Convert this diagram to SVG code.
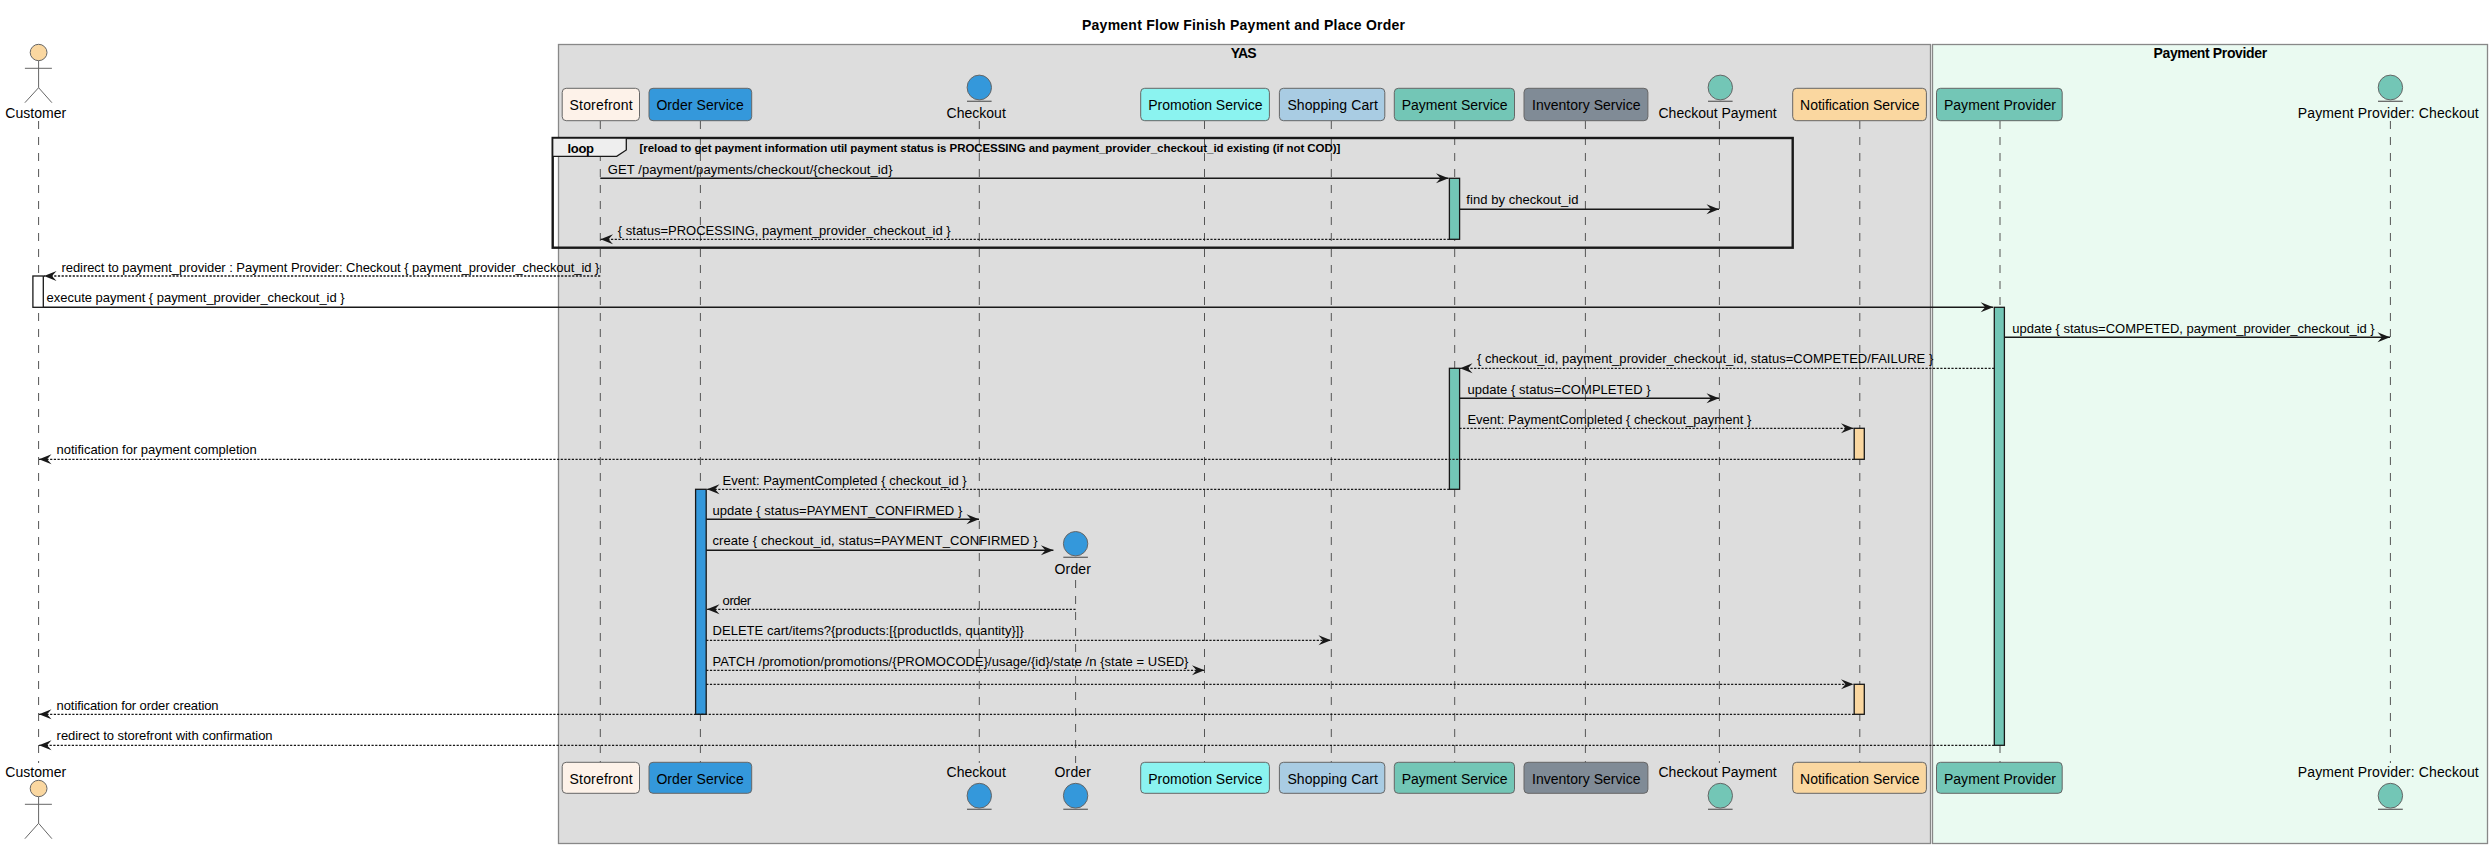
<svg xmlns="http://www.w3.org/2000/svg" width="2492" height="848" viewBox="0 0 2492 848">
<style>
text{font-family:"Liberation Sans",Arial,sans-serif;fill:#000;white-space:pre}
.m{font-size:13px}
.p{font-size:14px}
.b{font-weight:bold}
.box{stroke:#666;stroke-width:1}
.life{stroke:#555;stroke-width:1;stroke-dasharray:8 8;fill:none}
.s{stroke:#181818;stroke-width:1.4;fill:none}
.d{stroke:#181818;stroke-width:1.3;fill:none;stroke-dasharray:2.2 1.5}
.act{stroke:#181818;stroke-width:1.3}
.ent{stroke:#666;stroke-width:1}
.ul{stroke:#666;stroke-width:1.3}
.man{stroke:#666;stroke-width:1;fill:none}
.t{fill:#73C6B6}.o{fill:#3498DB}.y{fill:#FAD7A0}
</style>
<defs>
<marker id="ah" markerUnits="userSpaceOnUse" markerWidth="14" markerHeight="12" refX="12.5" refY="6" orient="auto-start-reverse" overflow="visible"><path d="M0 1L12.5 6L0 11L4.5 6Z" fill="#181818"/></marker>
</defs>
<rect width="2492" height="848" fill="#fff"/>
<text id="title" class="b" x="1082" y="30" font-size="14" textLength="323">Payment Flow Finish Payment and Place Order</text>
<g id="box-yas"><rect x="558.5" y="44.5" width="1372" height="799" fill="#DDDDDD" stroke="#888" stroke-width="1.3"/><text class="b" x="1230.7" y="58" font-size="14" textLength="25.9">YAS</text></g>
<g id="box-pp"><rect x="1932.5" y="44.5" width="555" height="799" fill="#EAFAF1" stroke="#888" stroke-width="1.3"/><text class="b" x="2153.5" y="58" font-size="14" textLength="113.6">Payment Provider</text></g>
<g id="lifelines">
<path class="life" d="M38.6 121V763M600.3 121V763M700.4 121V763M979.3 121V763M1075.6 580V763M1204.5 121V763M1331.3 121V763M1454.7 121V763M1585.4 121V763M1719.4 121V763M1859.8 121V763M2000 121V763M2390.4 121V763"/>
</g>
<g id="loop"><rect x="552.7" y="138" width="1240" height="109.7" fill="none" stroke="#181818" stroke-width="2.4"/><path d="M552.7 138H626.3V150L616.7 156.3H552.7Z" fill="#EEEEEE" stroke="#181818" stroke-width="1.3"/><text class="m b" x="567.5" y="152.7" textLength="26.5">loop</text><text class="b" x="639.5" y="152" font-size="11.5" textLength="700.8">[reload to get payment information util payment status is PROCESSING and payment_provider_checkout_id existing (if not COD)]</text></g>
<g id="activations">
<rect class="act t" x="1449.4" y="178.3" width="10.2" height="61"/>
<rect class="act" fill="#fff" x="32.9" y="276" width="10.4" height="31.3"/>
<rect class="act t" x="1994.3" y="307.3" width="10.1" height="438"/>
<rect class="act t" x="1449.4" y="368.3" width="10.2" height="121"/>
<rect class="act y" x="1854.2" y="428.3" width="10.1" height="31"/>
<rect class="act o" x="695.6" y="489.3" width="10.6" height="225"/>
<rect class="act y" x="1854.2" y="684.3" width="10.1" height="30"/>
</g>
<g id="connectors">
<path class="s" marker-end="url(#ah)" d="M600.3 178.3H1448.5"/><text class="m" x="607.7" y="174" textLength="284.8">GET /payment/payments/checkout/{checkout_id}</text>
<path class="s" marker-end="url(#ah)" d="M1459.4 209.3H1719"/><text class="m" x="1466.3" y="204" textLength="112.2">find by checkout_id</text>
<path class="d" marker-end="url(#ah)" d="M1449.4 239.3H600.5"/><text class="m" x="617.8" y="235" textLength="332.9">{ status=PROCESSING, payment_provider_checkout_id }</text>
<path class="d" marker-end="url(#ah)" d="M600.3 276H44"/><text class="m" x="61.4" y="272.3" textLength="538">redirect to payment_provider : Payment Provider: Checkout { payment_provider_checkout_id }</text>
<path class="s" marker-end="url(#ah)" d="M43.4 307.3H1993.2"/><text class="m" x="46.6" y="301.7" textLength="298">execute payment { payment_provider_checkout_id }</text>
<path class="s" marker-end="url(#ah)" d="M2004.4 337.3H2390"/><text class="m" x="2012.3" y="332.7" textLength="362.4">update { status=COMPETED, payment_provider_checkout_id }</text>
<path class="d" marker-end="url(#ah)" d="M1994.3 368.3H1460"/><text class="m" x="1477" y="363.3" textLength="456.3">{ checkout_id, payment_provider_checkout_id, status=COMPETED/FAILURE }</text>
<path class="s" marker-end="url(#ah)" d="M1459.4 398.3H1719"/><text class="m" x="1467.4" y="394" textLength="183.2">update { status=COMPLETED }</text>
<path class="d" marker-end="url(#ah)" d="M1459.4 428.3H1853.5"/><text class="m" x="1467.4" y="424" textLength="283.9">Event: PaymentCompleted { checkout_payment }</text>
<path class="d" marker-end="url(#ah)" d="M1854.2 459.3H39"/><text class="m" x="56.6" y="454.3" textLength="200.2">notification for payment completion</text>
<path class="d" marker-end="url(#ah)" d="M1449.4 489.3H707"/><text class="m" x="722.6" y="485" textLength="244">Event: PaymentCompleted { checkout_id }</text>
<path class="s" marker-end="url(#ah)" d="M706.2 519.3H979"/><text class="m" x="712.5" y="515" textLength="249.8">update { status=PAYMENT_CONFIRMED }</text>
<path class="s" marker-end="url(#ah)" d="M706.2 550.3H1053.4"/><text class="m" x="712.5" y="545" textLength="325">create { checkout_id, status=PAYMENT_CONFIRMED }</text>
<path class="d" marker-end="url(#ah)" d="M1075.6 609.3H707"/><text class="m" x="722.6" y="605" textLength="28.6">order</text>
<path class="d" marker-end="url(#ah)" d="M706.2 640.3H1331"/><text class="m" x="712.5" y="635" textLength="311.3">DELETE cart/items?{products:[{productIds, quantity}]}</text>
<path class="d" marker-end="url(#ah)" d="M706.2 670.3H1204.5"/><text class="m" x="712.5" y="666" textLength="475.9">PATCH /promotion/promotions/{PROMOCODE}/usage/{id}/state /n {state = USED}</text>
<path class="d" marker-end="url(#ah)" d="M706.2 684.3H1853.5"/>
<path class="d" marker-end="url(#ah)" d="M1854.2 714.3H39"/><text class="m" x="56.6" y="710" textLength="162">notification for order creation</text>
<path class="d" marker-end="url(#ah)" d="M1994.3 745.3H39"/><text class="m" x="56.6" y="740" textLength="216">redirect to storefront with confirmation</text>
</g>
<g id="customer"><ellipse cx="38.6" cy="52.5" rx="8.4" ry="8.2" fill="#FAD7A0" stroke="#666"/><path class="man" d="M38.6 60.7V87.7M24.9 68.3H51.9M24.9 102.7L38.6 87.7L51.9 102.7"/><text class="p" x="5.3" y="118" textLength="60.9">Customer</text></g>
<g id="customer-bottom"><text class="p" x="5.3" y="777.3" textLength="60.9">Customer</text><ellipse cx="38.6" cy="788.5" rx="8.4" ry="8.2" fill="#FAD7A0" stroke="#666"/><path class="man" d="M38.6 796.7V823.3M24.9 804.3H51.9M24.9 838.7L38.6 823.3L51.9 838.7"/></g>
<g id="storefront"><rect class="box" x="562.2" y="88.3" width="77.3" height="32.4" rx="4" fill="#FDF2E9"/><text class="p" x="569.6" y="110" textLength="63">Storefront</text></g>
<g id="storefront-bottom"><rect class="box" x="562.2" y="762.3" width="77.3" height="31" rx="4" fill="#FDF2E9"/><text class="p" x="569.6" y="783.7" textLength="63">Storefront</text></g>
<g id="order-service"><rect class="box" x="649" y="88.3" width="102.7" height="32.4" rx="4" fill="#3498DB"/><text class="p" x="656.4" y="110" textLength="87.3">Order Service</text></g>
<g id="order-service-bottom"><rect class="box" x="649" y="762.3" width="102.7" height="31" rx="4" fill="#3498DB"/><text class="p" x="656.4" y="783.7" textLength="87.3">Order Service</text></g>
<g id="checkout"><ellipse class="ent o" cx="979.3" cy="87.5" rx="12.2" ry="12.4"/><path class="ul" d="M967 101.3H991.6"/><text class="p" x="946.5" y="118" textLength="59.3">Checkout</text></g>
<g id="checkout-bottom"><text class="p" x="946.5" y="777.3" textLength="59.3">Checkout</text><ellipse class="ent o" cx="979.3" cy="795.7" rx="12.2" ry="12.4"/><path class="ul" d="M967 809.3H991.6"/></g>
<g id="order"><ellipse class="ent o" cx="1075.6" cy="543.7" rx="12.2" ry="12.2"/><path class="ul" d="M1063.3 557.3H1087.9"/><text class="p" x="1054.5" y="574" textLength="36.5">Order</text></g>
<g id="order-bottom"><text class="p" x="1054.5" y="777.3" textLength="36.5">Order</text><ellipse class="ent o" cx="1075.6" cy="795.7" rx="12.2" ry="12.4"/><path class="ul" d="M1063.3 809.3H1087.9"/></g>
<g id="promotion"><rect class="box" x="1140.7" y="88.3" width="128.7" height="32.4" rx="4" fill="#8BF3F0"/><text class="p" x="1148.2" y="110" textLength="114.3">Promotion Service</text></g>
<g id="promotion-bottom"><rect class="box" x="1140.7" y="762.3" width="128.7" height="31" rx="4" fill="#8BF3F0"/><text class="p" x="1148.2" y="783.7" textLength="114.3">Promotion Service</text></g>
<g id="cart"><rect class="box" x="1279.4" y="88.3" width="105.4" height="32.4" rx="4" fill="#A9CCE3"/><text class="p" x="1287.4" y="110" textLength="90.5">Shopping Cart</text></g>
<g id="cart-bottom"><rect class="box" x="1279.4" y="762.3" width="105.4" height="31" rx="4" fill="#A9CCE3"/><text class="p" x="1287.4" y="783.7" textLength="90.5">Shopping Cart</text></g>
<g id="payment"><rect class="box" x="1394.3" y="88.3" width="120.2" height="32.4" rx="4" fill="#73C6B6"/><text class="p" x="1401.7" y="110" textLength="105.9">Payment Service</text></g>
<g id="payment-bottom"><rect class="box" x="1394.3" y="762.3" width="120.2" height="31" rx="4" fill="#73C6B6"/><text class="p" x="1401.7" y="783.7" textLength="105.9">Payment Service</text></g>
<g id="inventory"><rect class="box" x="1524" y="88.3" width="123.9" height="32.4" rx="4" fill="#808B96"/><text class="p" x="1532" y="110" textLength="108.5">Inventory Service</text></g>
<g id="inventory-bottom"><rect class="box" x="1524" y="762.3" width="123.9" height="31" rx="4" fill="#808B96"/><text class="p" x="1532" y="783.7" textLength="108.5">Inventory Service</text></g>
<g id="checkout-payment"><ellipse class="ent t" cx="1720.3" cy="87.5" rx="12.2" ry="12.4"/><path class="ul" d="M1708 101.3H1732.6"/><text class="p" x="1658.5" y="118" textLength="118.2">Checkout Payment</text></g>
<g id="checkout-payment-bottom"><text class="p" x="1658.5" y="777.3" textLength="118.2">Checkout Payment</text><ellipse class="ent t" cx="1720.3" cy="795.7" rx="12.2" ry="12.4"/><path class="ul" d="M1708 809.3H1732.6"/></g>
<g id="notification"><rect class="box" x="1792.7" y="88.3" width="133.7" height="32.4" rx="4" fill="#FAD7A0"/><text class="p" x="1800.1" y="110" textLength="119.4">Notification Service</text></g>
<g id="notification-bottom"><rect class="box" x="1792.7" y="762.3" width="133.7" height="31" rx="4" fill="#FAD7A0"/><text class="p" x="1800.1" y="783.7" textLength="119.4">Notification Service</text></g>
<g id="provider"><rect class="box" x="1936.5" y="88.3" width="125.7" height="32.4" rx="4" fill="#73C6B6"/><text class="p" x="1943.9" y="110" textLength="112">Payment Provider</text></g>
<g id="provider-bottom"><rect class="box" x="1936.5" y="762.3" width="125.7" height="31" rx="4" fill="#73C6B6"/><text class="p" x="1943.9" y="783.7" textLength="112">Payment Provider</text></g>
<g id="provider-checkout"><ellipse class="ent t" cx="2390.4" cy="87.5" rx="12.2" ry="12.4"/><path class="ul" d="M2378 101.3H2402.8"/><text class="p" x="2297.8" y="118" textLength="180.9">Payment Provider: Checkout</text></g>
<g id="provider-checkout-bottom"><text class="p" x="2297.8" y="777.3" textLength="180.9">Payment Provider: Checkout</text><ellipse class="ent t" cx="2390.4" cy="795.7" rx="12.2" ry="12.4"/><path class="ul" d="M2378 809.3H2402.8"/></g>
</svg>
